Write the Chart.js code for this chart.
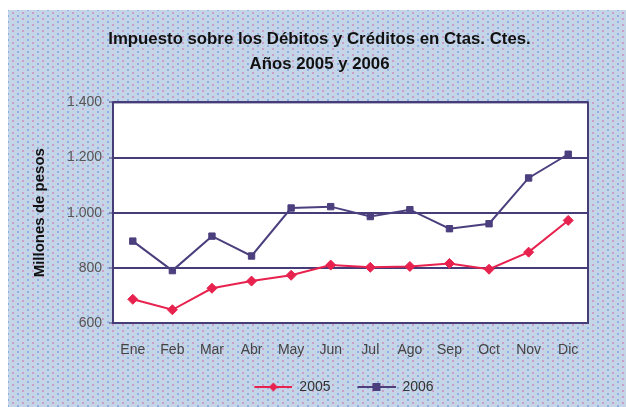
<!DOCTYPE html>
<html>
<head>
<meta charset="utf-8">
<script src="https://cdn.jsdelivr.net/npm/chart.js@4/dist/chart.umd.min.js"></script>
<style>
  html, body { margin: 0; padding: 0; background: #ffffff; }
  #wrap { position: relative; width: 626px; height: 407px; overflow: hidden; }
  #panel {
    position: absolute; left: 8px; top: 10px; right: 0; bottom: 0;
    background-color: #c3d5e6;
    background-image:
      radial-gradient(circle, rgba(205,140,190,0.75) 0.9px, transparent 1.3px),
      radial-gradient(circle, rgba(120,160,230,0.7) 0.9px, transparent 1.3px);
    background-size: 10px 6px, 10px 6px;
    background-position: 0 0, 5px 3px;
  }
  canvas { position: absolute; left: 0; top: 0; }
</style>
</head>
<body>
<div id="wrap">
  <div id="panel"></div>
  <canvas id="c" width="626" height="407"></canvas>
</div>
<script>
const titleLines = ['Impuesto sobre los Débitos y Créditos en Ctas. Ctes.', 'Años 2005 y 2006'];
const yAxisTitle = 'Millones de pesos';
const months = ['Ene', 'Feb', 'Mar', 'Abr', 'May', 'Jun', 'Jul', 'Ago', 'Sep', 'Oct', 'Nov', 'Dic'];
const series2005 = [686, 648, 726, 752, 773, 810, 802, 805, 816, 795, 857, 972];
const series2006 = [897, 790, 915, 843, 1017, 1022, 986, 1011, 942, 960, 1126, 1212];
const yTicks = [600, 800, 1000, 1200, 1400];
const yTickLabels = ['600', '800', '1.000', '1.200', '1.400'];
const seriesNames = ['2005', '2006'];

const color2005 = '#e8224e';
const color2006 = '#4c3f7e';
const gridColor = '#463d78';
const FONT = "'Liberation Sans', Arial, sans-serif";
const LEGEND_SHIFT = 26;
const TITLE_SHIFT = 10;
const ICON_GAP = 17;

function legendIcon(color, style) {
  const cv = document.createElement('canvas');
  cv.width = 38 + ICON_GAP; cv.height = 10;
  const ctx = cv.getContext('2d');
  ctx.translate(ICON_GAP, 0);
  ctx.strokeStyle = color; ctx.lineWidth = 2;
  ctx.beginPath(); ctx.moveTo(0, 5); ctx.lineTo(38, 5); ctx.stroke();
  ctx.fillStyle = color;
  ctx.beginPath();
  if (style === 'diamond') {
    ctx.moveTo(19, 0.5); ctx.lineTo(23.5, 5); ctx.lineTo(19, 9.5); ctx.lineTo(14.5, 5); ctx.closePath();
  } else {
    ctx.rect(15, 1, 8, 8);
  }
  ctx.fill();
  return cv;
}
const icons = [legendIcon(color2005, 'diamond'), legendIcon(color2006, 'square')];

const plotBg = {
  id: 'plotBg',
  afterLayout(chart) {
    if (chart.legend) { chart.legend.left += LEGEND_SHIFT; chart.legend.right += LEGEND_SHIFT; }
    if (chart.titleBlock) { chart.titleBlock.left += TITLE_SHIFT; chart.titleBlock.right += TITLE_SHIFT; }
  },
  beforeDraw(chart) {
    const { ctx, chartArea: a } = chart;
    ctx.save();
    ctx.fillStyle = '#ffffff';
    ctx.fillRect(a.left, a.top, a.right - a.left, a.bottom - a.top);
    ctx.restore();
  },
  beforeDatasetsDraw(chart) {
    const { ctx, chartArea: a } = chart;
    ctx.save();
    ctx.strokeStyle = gridColor;
    ctx.lineWidth = 2;
    ctx.strokeRect(a.left, a.top, a.right - a.left, a.bottom - a.top);
    ctx.restore();
  }
};

new Chart(document.getElementById('c'), {
  type: 'line',
  data: {
    labels: months,
    datasets: [
      {
        label: seriesNames[0], data: series2005,
        borderColor: color2005, backgroundColor: color2005,
        borderWidth: 2, pointStyle: 'rectRot', pointRadius: 5,
        pointBorderWidth: 1, tension: 0
      },
      {
        label: seriesNames[1], data: series2006,
        borderColor: color2006, backgroundColor: color2006,
        borderWidth: 2, pointStyle: 'rect', pointRadius: 4.5,
        pointBorderWidth: 1, tension: 0
      }
    ]
  },
  options: {
    responsive: false,
    animation: false,
    devicePixelRatio: 1,
    layout: { padding: { left: 31, right: 38, top: 0, bottom: 3 } },
    plugins: {
      title: {
        display: true, text: titleLines, color: '#111111',
        font: { family: FONT, size: 16.8, weight: 'bold', lineHeight: 1.5 },
        padding: { top: 27, bottom: 25 }
      },
      legend: {
        display: true, position: 'bottom',
        labels: {
          usePointStyle: true, pointStyleWidth: 38 + ICON_GAP, boxHeight: 10,
          color: '#333333', font: { family: FONT, size: 14 }, padding: 10,
          generateLabels(chart) {
            return chart.data.datasets.map((ds, i) => ({
              text: ds.label, pointStyle: icons[i], fillStyle: ds.borderColor,
              strokeStyle: ds.borderColor, lineWidth: 0, hidden: false, datasetIndex: i,
              fontColor: '#333333'
            }));
          }
        }
      },
      tooltip: { enabled: false }
    },
    scales: {
      x: {
        offset: true,
        grid: { display: false, drawTicks: false },
        border: { display: false },
        ticks: { color: '#444444', font: { family: FONT, size: 14 }, padding: 19, maxRotation: 0, autoSkip: false },
        afterFit(scale) { scale.height = 47; }
      },
      y: {
        min: 600, max: 1400,
        afterBuildTicks(scale) { scale.ticks = yTicks.map(v => ({ value: v })); },
        grid: { color: gridColor, lineWidth: 2, drawTicks: true, tickLength: 4, tickColor: gridColor, tickWidth: 1 },
        border: { display: false },
        ticks: {
          color: '#555555', font: { family: FONT, size: 14 }, padding: 7,
          callback(v) { const i = yTicks.indexOf(v); return i >= 0 ? yTickLabels[i] : ''; }
        },
        title: {
          display: true, text: yAxisTitle, color: '#111111',
          font: { family: FONT, size: 15, weight: 'bold' }, padding: { top: 0, bottom: 0 }
        },
        afterFit(scale) { scale.width = 82; }
      }
    }
  },
  plugins: [plotBg]
});
</script>
</body>
</html>
